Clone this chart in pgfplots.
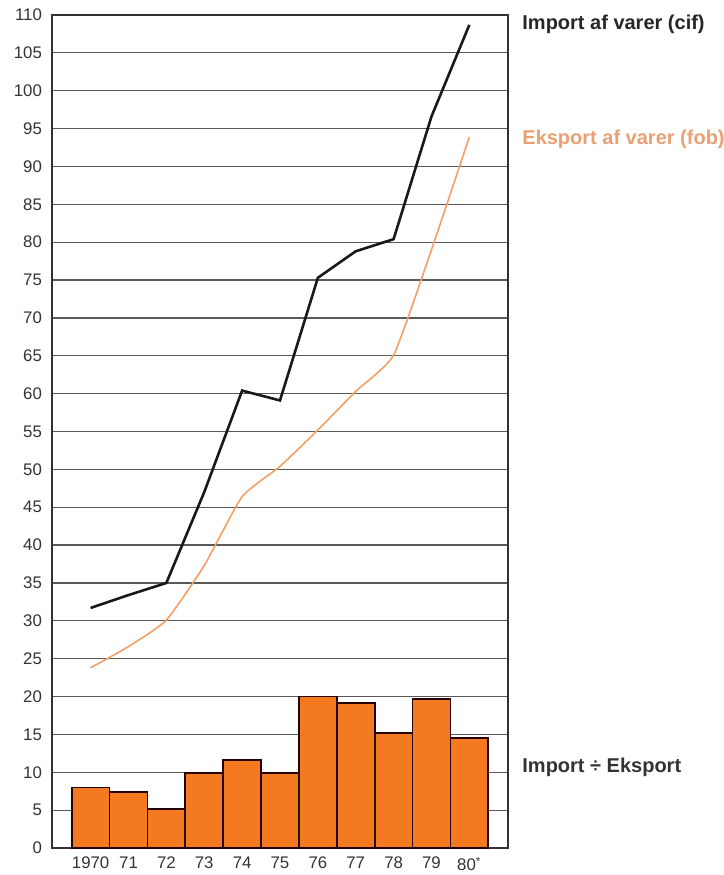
\documentclass[border=0pt]{standalone}
\usepackage{pgfplots}
\pgfplotsset{compat=1.18}
\usepackage{fontspec}
\setmainfont{Liberation Sans}
\definecolor{barorange}{HTML}{F47A22}
\definecolor{expline}{HTML}{F2A066}
\definecolor{explabel}{HTML}{E9A072}
\definecolor{gridc}{HTML}{5A5A5A}
\definecolor{txt}{HTML}{333333}
\begin{document}
\begin{tikzpicture}
\begin{axis}[
  scale only axis,
  width=228pt, height=416.5pt,
  at={(0,0)}, anchor=south west,
  xmin=-1.02, xmax=11.02,
  ymin=0, ymax=110,
  xtick={0,...,10},
  xticklabels={1970,71,72,73,74,75,76,77,78,79,80\textsuperscript{*}},
  ytick={0,5,...,110},
  major tick length=0pt,
  ymajorgrids,
  grid style={gridc, line width=0.6pt},
  axis line style={txt, line width=0.9pt},
  tick label style={font=\fontsize{8.4}{9}\selectfont, text=txt},
  yticklabel style={xshift=-1.5pt},
  xticklabel style={yshift=-1pt},
  /pgf/number format/assume math mode=true,
  clip=false,
]
\addplot[ybar, bar width=1, fill=barorange, draw=black!85!red, line width=0.9pt]
  coordinates {(0,8.0) (1,7.35) (2,5.1) (3,9.9) (4,11.6) (5,9.9) (6,20.0) (7,19.2) (8,15.2) (9,19.7) (10,14.5)};
\addplot[expline, line width=0.8pt, smooth, tension=0.3]
  coordinates {(0,23.8) (1,26.6) (2,30.1) (3,37.3) (4,46.4) (5,50.4) (6,55.2) (7,60.3) (8,65.1) (9,79.0) (10,93.9)};
\addplot[black!90, line width=1.3pt]
  coordinates {(0,31.7) (1,33.4) (2,35.0) (3,47.0) (4,60.4) (5,59.1) (6,75.3) (7,78.8) (8,80.4) (9,96.6) (10,108.7)};
\node[anchor=west, inner sep=0pt, font=\fontsize{10}{11}\selectfont\bfseries, text=black!85] at (axis cs:11.39,108.8) {Import af varer (cif)};
\node[anchor=west, inner sep=0pt, font=\fontsize{10}{11}\selectfont\bfseries, text=explabel] at (axis cs:11.39,93.6) {Eksport af varer (fob)};
\node[anchor=west, inner sep=0pt, font=\fontsize{10}{11}\selectfont\bfseries, text=txt] at (axis cs:11.39,10.6) {Import ÷ Eksport};
\end{axis}
\pgfresetboundingbox
\path[use as bounding box] (-26pt,-13.5pt) rectangle (336pt,424pt);
\end{tikzpicture}
\end{document}
